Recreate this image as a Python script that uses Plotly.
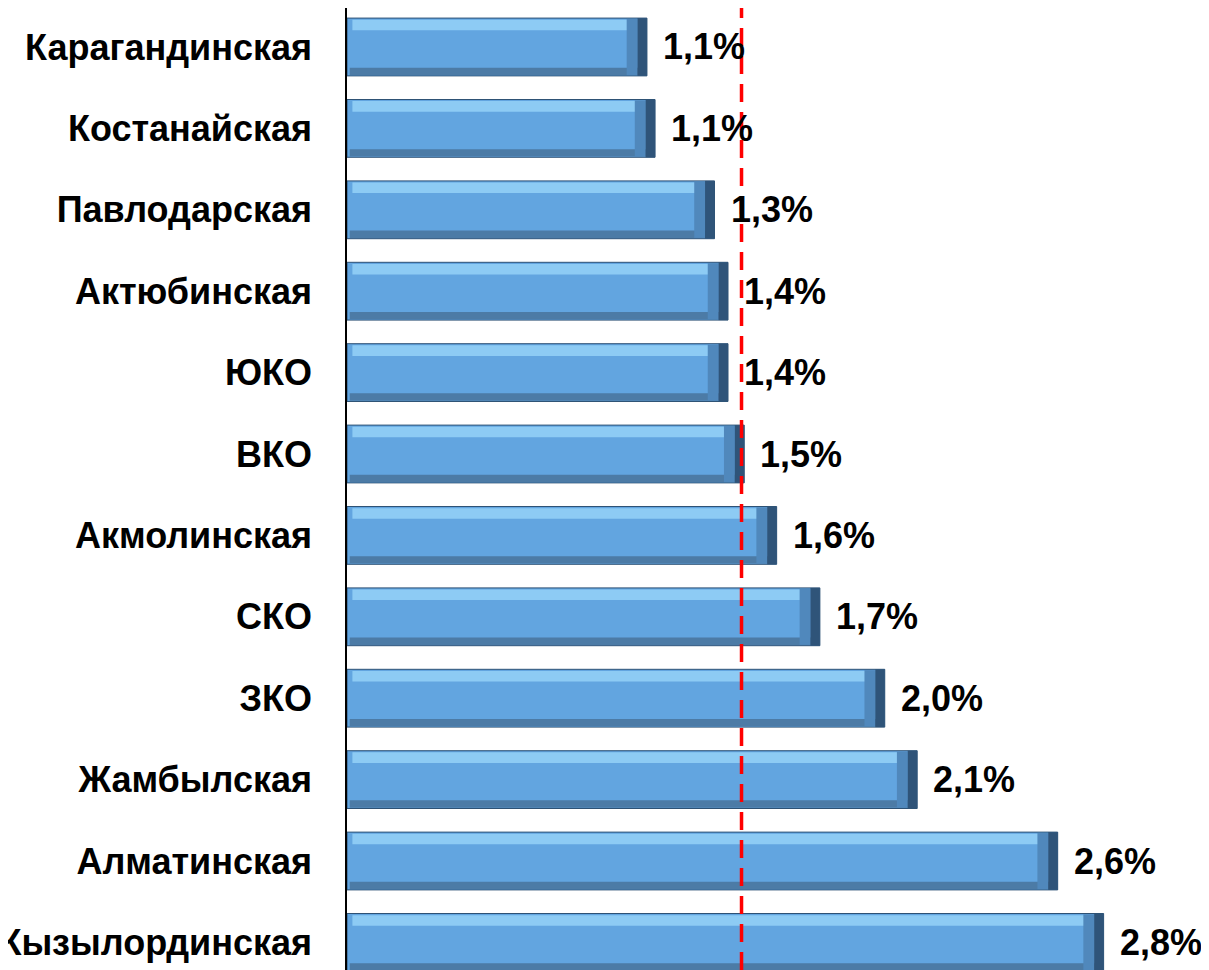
import plotly.graph_objects as go

regions = ["Карагандинская", "Костанайская", "Павлодарская", "Актюбинская", "ЮКО", "ВКО",
           "Акмолинская", "СКО", "ЗКО", "Жамбылская", "Алматинская", "Кызылординская"]
values = [1.11, 1.14, 1.36, 1.41, 1.41, 1.47, 1.59, 1.75, 1.99, 2.11, 2.63, 2.80]
labels = ["1,1%", "1,1%", "1,3%", "1,4%", "1,4%", "1,5%", "1,6%", "1,7%", "2,0%", "2,1%", "2,6%", "2,8%"]
average = 1.46

BW = 0.71
fig = go.Figure()
# main bar body
fig.add_trace(go.Bar(
    y=regions, x=values, orientation="h", width=BW,
    marker=dict(color="#62A5E0", line=dict(color="#2E5275", width=1)),
    showlegend=False, hoverinfo="skip",
))
# bevel: top highlight
fig.add_trace(go.Bar(
    y=regions, x=[v - 0.08 for v in values], base=0.02, orientation="h",
    offset=-BW / 2 + 0.02, width=0.13,
    marker=dict(color="#8DCBF4", line=dict(width=0)),
    showlegend=False, hoverinfo="skip",
))
# bevel: bottom shadow
fig.add_trace(go.Bar(
    y=regions, x=[v - 0.04 for v in values], base=0.01, orientation="h",
    offset=BW / 2 - 0.1, width=0.09,
    marker=dict(color="#4C7BA6", line=dict(width=0)),
    showlegend=False, hoverinfo="skip",
))
# bevel: right shadow (two tones)
fig.add_trace(go.Bar(
    y=regions, x=[0.04] * len(values), base=[v - 0.075 for v in values], orientation="h",
    offset=-BW / 2 + 0.01, width=BW - 0.02,
    marker=dict(color="#5088BC", line=dict(width=0)),
    showlegend=False, hoverinfo="skip",
))
fig.add_trace(go.Bar(
    y=regions, x=[0.035] * len(values), base=[v - 0.035 for v in values], orientation="h",
    offset=-BW / 2, width=BW,
    marker=dict(color="#2F5479", line=dict(width=0)),
    showlegend=False, hoverinfo="skip",
))

for r, v, t in zip(regions, values, labels):
    fig.add_annotation(x=v, y=r, text=f"<b>{t}</b>", showarrow=False, xanchor="left",
                       xshift=14, font=dict(family="Liberation Sans, Arial", size=36, color="black"))

fig.add_shape(type="line", xref="x", yref="paper", x0=average, x1=average, y0=0, y1=1.02,
              line=dict(color="#FF0000", width=3.5, dash="18px,10px"), layer="above")

fig.update_layout(
    width=1201, height=962,
    margin=dict(l=339, r=0, t=0, b=0),
    plot_bgcolor="white", paper_bgcolor="white",
    font=dict(family="Liberation Sans, Arial", color="black"),
    barmode="overlay",
)
fig.update_xaxes(range=[0, 3.19], showticklabels=False, showgrid=False, zeroline=False,
                 showline=False, automargin=False)
fig.update_yaxes(range=[11.339, -0.479], showgrid=False, zeroline=False, showline=True,
                 linecolor="black", linewidth=1.5, ticks="", ticklabelstandoff=26, automargin=False,
                 tickfont=dict(family="Liberation Sans, Arial", size=36, color="black", weight="bold"))

fig.write_html("out.html")
